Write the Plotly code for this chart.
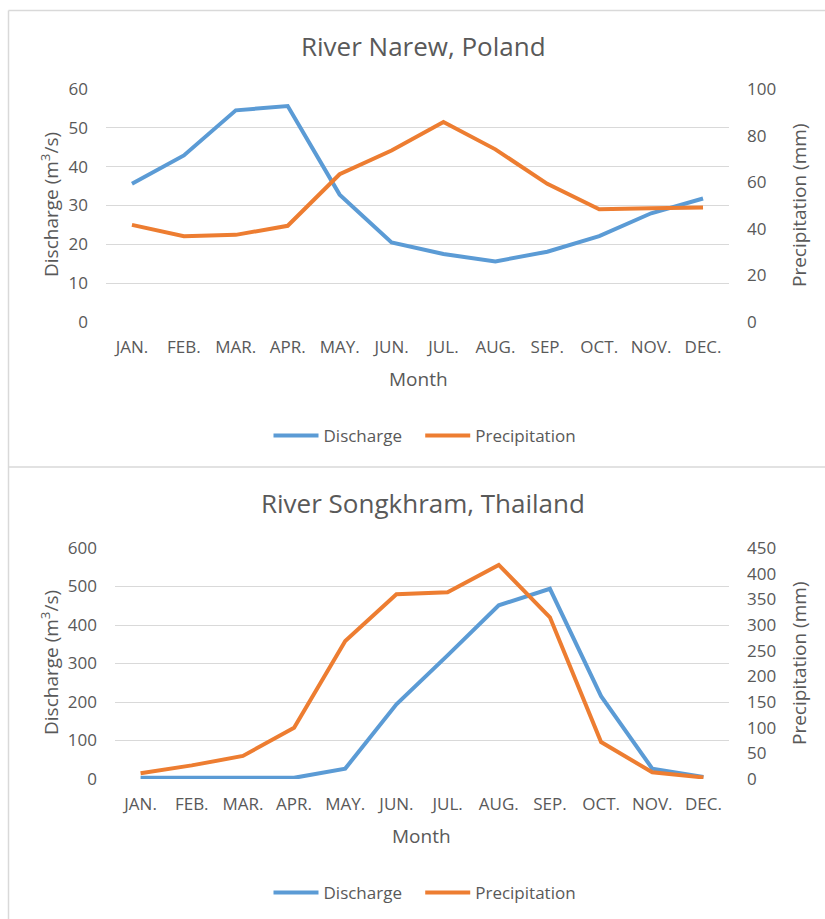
import plotly.graph_objects as go

months = ["JAN.", "FEB.", "MAR.", "APR.", "MAY.", "JUN.", "JUL.", "AUG.", "SEP.", "OCT.", "NOV.", "DEC."]

narew_discharge = [35.6, 42.9, 54.5, 55.6, 32.8, 20.5, 17.5, 15.6, 18.1, 22.1, 28.0, 31.8]
narew_precip = [41.7, 36.8, 37.4, 41.3, 63.4, 73.6, 85.8, 74.1, 59.3, 48.4, 48.8, 49.1]

songkhram_discharge = [3.5, 2.6, 2, 3, 27, 194, 321, 451, 494, 215, 27, 5]
songkhram_precip = [11, 26.5, 45, 100, 269, 360, 364, 417, 315, 72, 13, 3]

narew_left_ticks = [0, 10, 20, 30, 40, 50, 60]
narew_right_ticks = [0, 20, 40, 60, 80, 100]
song_left_ticks = [0, 100, 200, 300, 400, 500, 600]
song_right_ticks = [0, 50, 100, 150, 200, 250, 300, 350, 400, 450]

W, H = 825, 919
BLUE = "#5B9BD5"
ORANGE = "#ED7D31"
GRID = "#D9D9D9"
TXT = "#595959"
FONT = "Open Sans, Noto Sans, sans-serif"
NB = "\u00a0\u00a0\u00a0"


def px(x):
    return x / W


def py(y):
    return 1 - y / H


fig = go.Figure()

LW = 4
fig.add_trace(go.Scatter(x=months, y=narew_discharge, name="Discharge" + NB, mode="lines",
                         line=dict(color=BLUE, width=LW), xaxis="x", yaxis="y", legend="legend"))
fig.add_trace(go.Scatter(x=months, y=narew_precip, name="Precipitation", mode="lines",
                         line=dict(color=ORANGE, width=LW), xaxis="x", yaxis="y2", legend="legend"))
fig.add_trace(go.Scatter(x=months, y=songkhram_discharge, name="Discharge" + NB, mode="lines",
                         line=dict(color=BLUE, width=LW), xaxis="x2", yaxis="y3", legend="legend2"))
fig.add_trace(go.Scatter(x=months, y=songkhram_precip, name="Precipitation", mode="lines",
                         line=dict(color=ORANGE, width=LW), xaxis="x2", yaxis="y4", legend="legend2"))

tickfont = dict(family=FONT, size=17, color=TXT)

xcommon = dict(type="category", range=[-0.5, 11.5], showgrid=False, zeroline=False,
               showline=False, ticks="", tickfont=tickfont, ticklabelstandoff=13,
               fixedrange=True, automargin=False)
ycommon = dict(showgrid=True, gridcolor=GRID, gridwidth=1.3, zeroline=False, showline=False,
               ticks="", tickfont=tickfont, ticklabelstandoff=17, fixedrange=True, automargin=False)

top_dom_x = [px(106), px(729)]
top_dom_y = [py(322), py(89)]
bot_dom_x = [px(115), px(729)]
bot_dom_y = [py(779), py(548)]

legfont = dict(family=FONT, size=17, color=TXT)

fig.update_layout(
    width=W, height=H,
    margin=dict(l=0, r=0, t=0, b=0, pad=0, autoexpand=False),
    paper_bgcolor="white", plot_bgcolor="white",
    font=dict(family=FONT, color=TXT),
    xaxis=dict(domain=top_dom_x, anchor="y", **xcommon),
    yaxis=dict(domain=top_dom_y, anchor="x", range=[0, 60], tickvals=narew_left_ticks, **ycommon),
    yaxis2=dict(domain=top_dom_y, anchor="x", overlaying="y", side="right", range=[0, 100],
                tickvals=narew_right_ticks, **{**ycommon, "showgrid": False}),
    xaxis2=dict(domain=bot_dom_x, anchor="y3", **xcommon),
    yaxis3=dict(domain=bot_dom_y, anchor="x2", range=[0, 600], tickvals=song_left_ticks, **ycommon),
    yaxis4=dict(domain=bot_dom_y, anchor="x2", overlaying="y3", side="right", range=[0, 450],
                tickvals=song_right_ticks, **{**ycommon, "showgrid": False}),
    legend=dict(orientation="h", x=px(425), y=py(436), xanchor="center", yanchor="middle",
                font=legfont, itemwidth=45, traceorder="normal"),
    legend2=dict(orientation="h", x=px(425), y=py(893), xanchor="center", yanchor="middle",
                 font=legfont, itemwidth=45, traceorder="normal"),
    showlegend=True,
)

annots = [
    dict(text="River Narew, Poland", x=px(423), y=py(46), size=26, angle=0),
    dict(text="River Songkhram, Thailand", x=px(423), y=py(503), size=26, angle=0),
    dict(text="Month", x=px(418), y=py(379), size=19, angle=0),
    dict(text="Month", x=px(422), y=py(836), size=19, angle=0),
    dict(text="Discharge (m<sup>3</sup>/s)", x=px(50), y=py(205), size=19, angle=-90),
    dict(text="Precipitation (mm)", x=px(799), y=py(205), size=19, angle=-90),
    dict(text="Discharge (m<sup>3</sup>/s)", x=px(50), y=py(663), size=19, angle=-90),
    dict(text="Precipitation (mm)", x=px(799), y=py(663), size=19, angle=-90),
]
for a in annots:
    fig.add_annotation(text=a["text"], x=a["x"], y=a["y"], xref="paper", yref="paper",
                       xanchor="center", yanchor="middle", showarrow=False, textangle=a["angle"],
                       font=dict(family=FONT, size=a["size"], color=TXT))

border = dict(color=GRID, width=1.5)
fig.add_shape(type="line", xref="paper", yref="paper", x0=px(8.5), x1=px(8.5), y0=0, y1=py(10.5), line=border)
fig.add_shape(type="line", xref="paper", yref="paper", x0=px(8.5), x1=1, y0=py(10.5), y1=py(10.5), line=border)
fig.add_shape(type="line", xref="paper", yref="paper", x0=px(8.5), x1=1, y0=py(467), y1=py(467), line=border)

fig.write_html("out.html", config={"displayModeBar": False},
               post_script="document.body.style.margin='0';document.body.style.overflow='hidden';"
                           "document.documentElement.style.overflow='hidden';")
